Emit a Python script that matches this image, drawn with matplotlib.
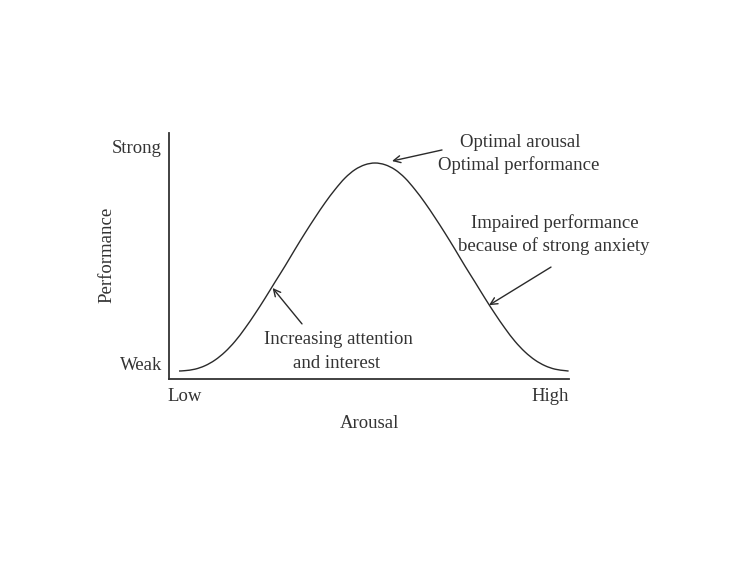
import matplotlib
matplotlib.use("Agg")
import matplotlib.pyplot as plt
from matplotlib.path import Path
from matplotlib.patches import PathPatch

# Curve (arousal 0-100, performance 0-100)
arousal = [2.5, 4.0, 6.5, 9.0, 11.5, 14.0, 16.5, 19.0, 21.5, 24.0, 26.5, 29.0,
           31.5, 34.0, 36.5, 39.0, 41.5, 44.0, 46.5, 49.0, 51.5, 54.0, 56.5,
           59.0, 61.5, 64.0, 66.5, 69.0, 71.5, 74.0, 76.5, 79.0, 81.5, 84.0,
           86.5, 89.0, 91.5, 94.0, 96.5, 99.0, 99.9]
performance = [3.25, 3.4, 4.0, 5.4, 7.7, 11.0, 15.3, 20.6, 26.5, 32.8, 39.4, 45.9,
               52.7, 59.3, 65.6, 71.6, 77.0, 81.7, 85.1, 87.1, 87.8, 87.1, 85.1,
               81.7, 77.0, 71.6, 65.6, 59.3, 52.7, 45.9, 39.4, 32.8, 26.5, 20.6,
               15.3, 11.0, 7.7, 5.4, 4.0, 3.4, 3.25]

y_tick_pos = [6.5, 94.7]
y_tick_labels = ["Weak", "Strong"]
x_end_labels = ["Low", "High"]

plt.rcParams['font.family'] = ['Liberation Serif', 'DejaVu Serif']
TC = "#333333"
FS = 13.5

fig = plt.figure(figsize=(7.5, 5.62), dpi=100)
ax = fig.add_axes([169/750, 1-379/562, 400/750, 246/562])
ax.set_xlim(0, 100)
ax.set_ylim(0, 100)

# smooth curve through the read points (Catmull-Rom -> cubic Bezier)
verts = [(arousal[0], performance[0])]
codes = [Path.MOVETO]
n = len(arousal)
for i in range(n - 1):
    p0 = (arousal[max(i - 1, 0)], performance[max(i - 1, 0)])
    p1 = (arousal[i], performance[i])
    p2 = (arousal[i + 1], performance[i + 1])
    p3 = (arousal[min(i + 2, n - 1)], performance[min(i + 2, n - 1)])
    c1 = (p1[0] + (p2[0] - p0[0]) / 6, p1[1] + (p2[1] - p0[1]) / 6)
    c2 = (p2[0] - (p3[0] - p1[0]) / 6, p2[1] - (p3[1] - p1[1]) / 6)
    verts += [c1, c2, p2]
    codes += [Path.CURVE4] * 3
ax.add_patch(PathPatch(Path(verts, codes), fill=False, edgecolor="#2a2a2a", lw=1.0))

for s in ["top", "right"]:
    ax.spines[s].set_visible(False)
for s in ["left", "bottom"]:
    ax.spines[s].set_linewidth(1.3)
    ax.spines[s].set_color("#333333")

ax.set_yticks(y_tick_pos)
ax.set_yticklabels(y_tick_labels, fontsize=FS, color=TC)
ax.tick_params(axis="y", length=0, pad=5)
ax.set_xticks([])

ax.text(-0.003, -0.07, x_end_labels[0], transform=ax.transAxes, ha="left", va="center",
        fontsize=FS, color=TC)
ax.text(1.0, -0.07, x_end_labels[1], transform=ax.transAxes, ha="right", va="center",
        fontsize=FS, color=TC)

fig.text(370/750, 1-423/562, "Arousal", ha="center", va="center", fontsize=FS, color=TC)
fig.text(107/750, 1-255/562, "Performance", ha="center", va="center", rotation=90,
         fontsize=FS, color=TC)

arrow = dict(arrowstyle="->,head_length=0.5,head_width=0.25", color="#2a2a2a", lw=1.0,
             shrinkA=0, shrinkB=0)

ax.text(87.75, 96.2, "Optimal arousal", ha="center", va="center", fontsize=FS, color=TC, clip_on=False)
ax.text(87.5, 86.8, "Optimal performance", ha="center", va="center", fontsize=FS, color=TC, clip_on=False)
ax.annotate("", xy=(55.75, 88.6), xytext=(68.25, 93.1), arrowprops=arrow, annotation_clip=False)

ax.text(96.5, 63.3, "Impaired performance", ha="center", va="center", fontsize=FS, color=TC, clip_on=False)
ax.text(96.25, 54.0, "because of strong anxiety", ha="center", va="center", fontsize=FS, color=TC, clip_on=False)
ax.annotate("", xy=(80.0, 30.0), xytext=(95.5, 45.5), arrowprops=arrow, annotation_clip=False)

ax.text(42.25, 16.2, "Increasing attention", ha="center", va="center", fontsize=FS, color=TC)
ax.text(42.0, 6.4, "and interest", ha="center", va="center", fontsize=FS, color=TC)
ax.annotate("", xy=(25.9, 37.0), xytext=(33.25, 22.4), arrowprops=arrow)

fig.savefig("out.png", dpi=100)
